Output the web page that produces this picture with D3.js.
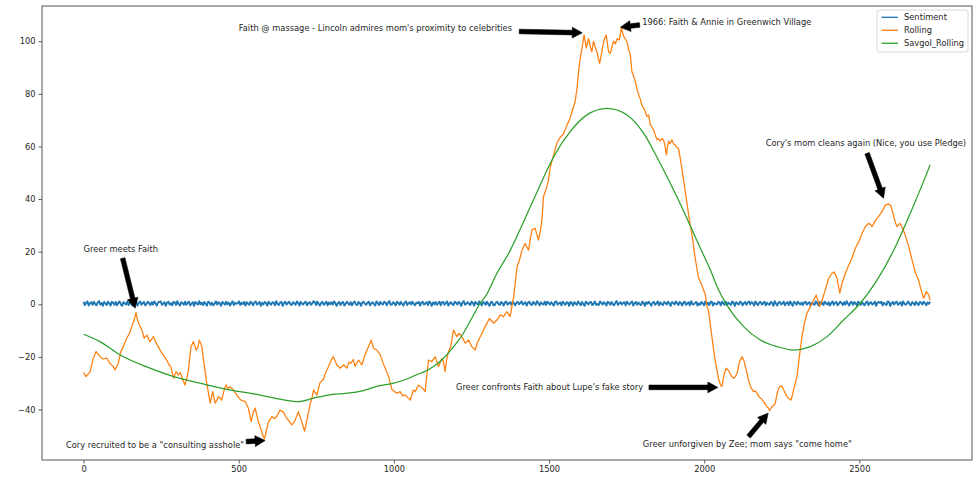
<!DOCTYPE html>
<html>
<head>
<meta charset="utf-8">
<script src="https://cdn.jsdelivr.net/npm/d3@7"></script>
<style>
  html, body { margin: 0; padding: 0; background: #fff; }
  svg { display: block; font-family: "DejaVu Sans", sans-serif; }
</style>
</head>
<body>
<svg id="chart" width="976" height="477"></svg>
<script>
// ---------------- DATA ----------------
const seriesNames = ["Sentiment", "Rolling", "Savgol_Rolling"];
const seriesColors = ["#1f77b4", "#ff7f0e", "#2ca02c"];

const xTicks = [0, 500, 1000, 1500, 2000, 2500];
const yTicks = [-40, -20, 0, 20, 40, 60, 80, 100];

const lastIndex = 2728;

// Sentiment (per-sentence, sampled evenly from index 0 to lastIndex)
const sentimentVals = [
 0.9,-0.3,0.6,1.1,-0.5,0.4,0.8,-0.2,1.0,0.1,-0.4,0.7,1.2,-0.1,0.5,-0.6,0.9,0.3,-0.3,1.0,
 0.3,-0.5,1.0,0.6,-0.2,0.9,-0.4,0.5,1.1,0.0,-0.6,0.8,0.4,-0.1,1.0,-0.3,0.7,0.2,-0.5,0.9,
 0.2,0.8,-0.5,0.6,1.1,-0.2,0.4,0.9,-0.4,0.0,1.0,0.5,-0.3,0.8,-0.1,1.1,0.3,-0.5,0.7,0.9,
 1.1,-0.2,0.3,0.8,-0.6,0.6,1.0,-0.1,0.4,-0.4,0.9,0.7,-0.3,1.2,0.1,-0.5,0.8,0.5,-0.2,1.0,
 -0.2,0.5,1.0,-0.4,0.2,0.8,-0.6,0.9,0.4,-0.1,1.2,0.0,0.6,-0.3,0.9,0.2,-0.5,1.0,0.7,-0.2,
 0.6,-0.4,0.2,1.1,-0.1,0.8,0.3,-0.6,0.9,0.5,-0.2,1.0,0.0,0.7,-0.5,0.4,1.1,-0.3,0.6,0.2,
 0.4,1.1,-0.3,0.6,0.1,0.9,-0.5,0.8,0.3,-0.2,1.0,0.5,-0.4,0.7,1.1,-0.1,0.3,0.9,-0.6,0.6,
 -0.1,0.9,0.5,-0.5,1.0,0.3,-0.2,0.8,0.6,-0.4,1.2,0.1,-0.3,0.7,0.9,-0.6,0.4,1.0,-0.1,0.5,
 1.0,0.0,-0.3,0.8,0.4,-0.2,1.1,0.6,-0.5,0.9,0.2,-0.1,0.7,1.0,-0.4,0.5,0.8,-0.2,0.3,1.2,
 0.8,-0.3,1.1,0.2,-0.5,0.6,0.9,-0.2,0.3,1.0,-0.4,0.7,0.0,0.8,-0.1,1.1,0.4,-0.6,0.5,0.9,
 -0.3,0.6,0.9,-0.5,0.1,1.0,0.4,-0.2,0.8,-0.4,0.6,1.1,0.0,-0.3,0.9,0.5,-0.6,0.7,1.0,0.2,
 -0.2,0.6,1.0,-0.4,0.3,0.8,0.1,-0.5,1.1,0.5,-0.3,0.9,0.2,-0.1,1.0,0.6,-0.4,0.7,1.2,-0.2,
 -0.1,0.8,0.3,-0.4,1.0,0.6,-0.2,0.9,0.1,-0.5,0.7,1.1,-0.3,0.4,0.8,-0.1,1.0,0.2,-0.4,0.6,
 0.4,0.9,-0.5,0.6,1.0,-0.1,0.3,0.8,-0.3,1.1,0.5,-0.6,0.7,0.0,0.9,-0.2,0.4,1.0,-0.4,0.8,
 0.9,-0.2,0.5,1.1,-0.5,0.3,0.8,0.0,-0.3,1.0,0.6,-0.1,0.9,0.4,-0.6,0.7,1.2,-0.2,0.2,0.8,
 0.2,-0.3,1.0,0.6,-0.5,0.9,0.3,-0.1,1.1,0.4,-0.4,0.8,0.6,-0.2,1.0,0.1,-0.6,0.7,0.9,-0.3,
 -0.4,0.6,1.0,0.1,-0.3,0.9,0.5,-0.5,0.7,1.1,-0.1,0.3,0.8,-0.2,1.0,0.4,-0.4,0.6,0.9,0.0,
 0.5,1.1,-0.1,0.3,0.8,-0.5,0.6,1.0,0.0,-0.3,0.9,0.4,-0.2,1.2,0.5,-0.4,0.7,0.2,-0.1,1.0,
 -0.3,1.0,0.5,-0.2,0.8,0.2,-0.5,0.9,1.1,-0.1,0.4,0.7,-0.4,1.0,0.3,-0.2,0.8,0.6,-0.6,0.9,
 0.6,-0.5,0.8,0.3,-0.2,1.1,0.4,-0.4,0.9,0.1,-0.6,1.0,0.5,-0.1,0.7,0.9,-0.3,0.2,1.1,-0.2,
 0.1,-0.3,1.1,0.5,-0.1,0.8,0.3,-0.5,1.0,0.6,-0.2,0.9,0.0,-0.4,0.7,1.2,-0.3,0.4,0.8,-0.1,
 0.5,0.8,-0.4,1.0,0.3,-0.1,0.6,1.1,-0.5,0.4,0.9,-0.2,0.7,0.0,-0.3,1.0,0.6,-0.6,0.8,0.2,
 1.0,0.2,-0.5,0.6,0.9,-0.2,0.4,1.1,-0.4,0.7,0.1,-0.3,0.9,0.5,-0.1,1.0,0.3,-0.6,0.8,0.6,
 -0.1,1.1,0.4,-0.3,0.9,0.5,-0.5,0.7,1.0,-0.2,0.3,0.8,-0.4,1.2,0.1,-0.1,0.6,0.9,-0.5,0.4,
 -0.2,0.9,0.4,-0.4,1.1,0.0,0.6,-0.3,0.8,1.0,-0.5,0.5,0.2,-0.1,0.9,0.7,-0.4,1.0,0.3,-0.2,
 1.0,-0.3,0.6,0.2,-0.2,1.1,0.5,-0.6,0.8,0.3,-0.1,1.0,0.7,-0.4,0.4,0.9,-0.2,0.6,1.1,0.0,
 0.8,0.5,-0.5,1.1,0.2,-0.3,0.7,0.9,-0.1,0.4,1.0,-0.4,0.6,0.1,-0.2,0.9,0.5,-0.6,1.2,0.3,
 -0.5,0.7,0.9,-0.1,0.3,1.0,-0.4,0.5,0.8,-0.3,1.1,0.2,-0.6,0.9,0.6,-0.2,1.0,0.4,-0.1,0.7,
 -0.3,0.7,1.0,-0.1,0.4,0.8,-0.5,0.6,0.2,-0.2,1.1,0.5,-0.4,0.9,0.0,0.7,-0.3,1.0,0.4,-0.1,
 0.8,-0.5,0.4,1.1,-0.2,0.6,0.9,-0.4,0.2,1.0,0.5,-0.3,0.8,-0.1,1.2,0.3,-0.5,0.7,0.9,-0.2,
 0.8,0.3,-0.5,1.0,0.6,-0.2,0.9,0.1,-0.4,0.7,1.1,-0.3,0.5,0.8,-0.1,0.2,1.0,-0.6,0.6,0.9,
 0.5,1.0,-0.4,0.6,0.1,-0.3,1.1,0.8,-0.6,0.4,0.9,-0.1,0.7,1.0,-0.2,0.3,0.8,-0.5,1.1,0.2,
 -0.2,0.4,1.1,0.0,-0.4,0.8,0.5,-0.3,1.0,0.2,
 -0.3,0.9,0.6,-0.1,1.0,0.4,-0.4,0.7,0.2,0.9
];

// Rolling
const rollingIdx = [
 0,8,21,30,40,53,62,75,85,96,101,112,120,128,139,148,155,163,169,175,180,188,195,204,214,225,233,241,249,257,
 268,275,281,290,298,305,312,320,327,333,338,346,354,363,368,373,381,388,397,408,416,424,435,445,452,459,466,472,483,494,
 507,521,531,540,547,553,562,570,577,583,589,596,607,615,623,633,644,655,663,671,682,692,703,712,718,723,730,736,741,752,
 762,773,780,787,798,805,816,827,838,848,855,862,869,875,886,897,907,916,927,934,945,956,963,972,983,994,1002,1010,1020,1028,
 1036,1045,1053,1058,1063,1069,1079,1085,1093,1101,1106,1112,1122,1133,1144,1155,1160,1165,1170,1176,1183,1192,1203,1210,1219,1230,1241,1251,1262,1268,
 1273,1284,1294,1308,1321,1332,1343,1353,1364,1375,1380,1386,1391,1397,1405,1413,1423,1428,1434,1439,1445,1455,1461,1466,1472,1477,1482,1493,1498,1504,
 1515,1525,1536,1545,1552,1558,1566,1574,1584,1590,1595,1600,1606,1613,1620,1627,1633,1638,1643,1648,1654,1663,1670,1676,1684,1692,1697,1703,1708,1714,
 1719,1727,1733,1740,1745,1751,1756,1762,1767,1772,1778,1783,1789,1794,1799,1805,1810,1815,1821,1826,1831,1837,1842,1848,1853,1858,1864,1869,1874,1878,
 1882,1885,1890,1896,1901,1907,1912,1917,1922,1928,1939,1950,1955,1961,1971,1982,1988,1993,1998,2004,2009,2014,2020,2030,2036,2039,2046,2052,2057,2065,
 2071,2077,2083,2089,2095,2100,2106,2114,2122,2129,2138,2143,2149,2159,2165,2170,2176,2181,2186,2191,2197,2202,2207,2211,2218,2224,2229,2235,2240,2246,
 2251,2256,2261,2266,2272,2280,2288,2299,2308,2315,2323,2331,2342,2353,2361,2366,2372,2380,2390,2401,2412,2419,2428,2437,2444,2455,2466,2476,2487,2498,
 2509,2519,2530,2536,2541,2552,2562,2573,2584,2594,2602,2611,2616,2622,2630,2637,2648,2659,2670,2681,2691,2699,2707,2716,2724,2728
];
const rollingVals = [
 -26.0,-27.5,-25.6,-21,-18.0,-19.9,-20.8,-20.5,-22.5,-23.7,-25.0,-22.4,-18,-16.1,-12.9,-11,-8.5,-6,-3.2,-6.5,-7.9,-9.8,-12.9,-11.7,-14.2,-12.3,-14.5,-16.1,-18,-19.3,
 -21.2,-23,-23.7,-28.1,-25.6,-26.9,-26,-28.8,-30.7,-28,-25.0,-16.1,-14.2,-17.4,-16.5,-13.6,-16.1,-22.4,-30.0,-37.6,-33.2,-37.6,-35.1,-36.4,-33,-30.7,-32,-31.3,-32.6,-34.5,
 -36.4,-37,-39.5,-44.6,-41,-39.5,-44,-47,-49.5,-51.2,-48,-44.6,-42.7,-43.5,-42.7,-40.2,-41,-43.4,-44.5,-45.9,-44,-40.8,-44.6,-48.2,-45,-42.1,-38,-35.7,-32.6,-34.5,
 -29.8,-28.5,-26,-24.3,-21.2,-19.9,-23,-24.3,-23,-24.3,-22,-22.4,-21,-23.6,-21.2,-23,-19.2,-16.7,-13.6,-16.7,-17.4,-19.2,-21.7,-24.3,-27.5,-32.5,-33.2,-33.8,-33.2,-34.8,
 -34.5,-35.5,-36.4,-34.5,-32.6,-33.2,-30.7,-31.3,-32,-33.2,-27,-21.2,-21.8,-19.9,-23.7,-20.5,-22,-25.6,-21,-18,-16.1,-9.8,-12.3,-11,-12.3,-14.8,-13.6,-16.1,-17.4,-15,
 -13.6,-11,-8.5,-5.4,-7.2,-6,-4,-4.7,-2.8,-4.7,-1,3,8,14.3,17,20.6,23.1,21.9,20.6,24.4,28.3,28.9,26.5,24.4,28,32,40.9,44.7,47,52.3,
 56.8,61.2,63.5,64.5,66.3,68.2,70.1,73.2,77,82,88.4,93,97.3,102.4,97.5,101,98,96,100,98,96,91.6,96,100,102.4,96,95.4,98,100,99,
 101,100.5,105.2,102,101,100,97,94.8,88.4,87,84.6,82,79.6,78,75.8,74.5,73.2,71.5,72,68.2,67.5,66.3,64.5,62.5,63,62,63,62.5,60,56.8,
 60,62,61,62.5,61,60.5,59.5,59.3,56,51.7,42.8,34,30,26.3,17.5,9.9,8.5,7.3,5.4,3.5,-0.9,-2.5,-8,-17,-21.8,-23.7,-28.2,-30.5,-31.3,-26.2,
 -24.3,-25,-26.2,-27.5,-28.1,-27.5,-26.2,-21.8,-19.9,-21.8,-26.2,-29,-31.3,-33.2,-33,-33.8,-35,-35.7,-36,-37,-38,-38.9,-39.5,-40.4,-38.9,-38.5,-37.6,-34,-31.9,-31,
 -31.3,-32.5,-33.8,-35,-35.7,-36.4,-32.6,-27.5,-18.6,-12.3,-7.2,-3.4,-0.9,1.6,3.5,1.5,-0.9,1.6,5.4,9.9,11.8,12.3,9.9,4.2,8,11.8,14.9,17.5,21.3,23.8,
 27,29.5,30.8,30.2,29.5,32,33.3,35.2,37.8,38.1,37.4,33.3,31,29.5,30.8,29.5,26.3,21.9,16.8,11.8,9.2,5.4,2.3,4.8,3.5,1.6
];

// Savgol_Rolling (smooth curve)
const savgolIdx = [0,53,118,214,290,376,483,521,569,633,692,741,789,850,902,950,999,1040,1079,1095,1130,1160,1190,1224,1250,1278,1294,1332,1375,1386,
 1450,1515,1568,1622,1687,1751,1805,1858,1912,1966,1987,2020,2046,2073,2127,2181,2235,2288,2342,2396,2449,2503,2557,2611,2664,2709,2728];
const savgolVals = [-11.4,-14.2,-19.3,-24.3,-27.5,-30,-32.8,-33.5,-34.5,-36.1,-37,-35.7,-34.5,-33.8,-32.8,-31,-30,-28.5,-26.5,-25.8,-23.5,-20.5,-16.5,-11,-5.5,0.4,2.8,11.8,20.5,23.2,
 39.7,56.1,65.6,72,74.5,72,65,53.6,40.9,27,21.5,13,5.5,-0.3,-8.5,-13.6,-16.1,-17.4,-16.1,-12.3,-6,0.4,9.2,20.6,34.6,47.3,53];

// Annotations
const annotTexts = [
 "Greer meets Faith",
 "Cory recruited to be a \"consulting asshole\"",
 "Faith @ massage - Lincoln admires mom's proximity to celebrities",
 "1966: Faith & Annie in Greenwich Village",
 "Cory's mom cleans again (Nice, you use Pledge)",
 "Greer confronts Faith about Lupe's fake story",
 "Greer unforgiven by Zee; mom says \"come home\""
];
const annotTextX = [0, -57, 500, 1800, 2198, 1200, 1802];
const annotTextY = [20, -54.6, 103.9, 106.3, 60, -32.7, -54.4];
const annotTailX = [126, 524, 1404, 1792, 2525, 1822, 2143];
const annotTailY = [17.5, -52.2, 103.7, 106.2, 57.4, -31.6, -50.3];
const annotTipX  = [166, 585, 1607, 1730, 2578, 2044, 2206];
const annotTipY  = [-1.5, -51.8, 103.2, 105.3, 40.3, -31.6, -41.4];

// ---------------- DRAW ----------------
const svg = d3.select("#chart");
const W = 976, H = 477;
const m = {left: 42, right: 4, top: 6, bottom: 17};
const x = d3.scaleLinear().domain([-134, 2863]).range([m.left, W - m.right]);
const y = d3.scaleLinear().domain([-59.2, 113.4]).range([H - m.bottom, m.top]);
const fontSize = 8.3;
const textColor = "#262626";

svg.append("rect").attr("width", W).attr("height", H).attr("fill", "#fff");

svg.append("clipPath").attr("id", "plotclip")
  .append("rect").attr("x", m.left).attr("y", m.top)
  .attr("width", W - m.left - m.right).attr("height", H - m.top - m.bottom);

const plot = svg.append("g").attr("clip-path", "url(#plotclip)");

const line = d3.line().x(d => x(d[0])).y(d => y(d[1]));

const nS = sentimentVals.length;
const sentimentData = sentimentVals.map((v, i) => [i * lastIndex / (nS - 1), v]);
const rollingData = rollingIdx.map((v, i) => [v, rollingVals[i]]);
const savgolData = savgolIdx.map((v, i) => [v, savgolVals[i]]);

plot.append("path").datum(sentimentData).attr("d", line)
  .attr("fill", "none").attr("stroke", seriesColors[0]).attr("stroke-width", 1.9)
  .attr("stroke-linejoin", "round");
plot.append("path").datum(rollingData).attr("d", line)
  .attr("fill", "none").attr("stroke", seriesColors[1]).attr("stroke-width", 1.25)
  .attr("stroke-linejoin", "round");
plot.append("path").datum(savgolData).attr("d", d3.line().x(d => x(d[0])).y(d => y(d[1])).curve(d3.curveMonotoneX))
  .attr("fill", "none").attr("stroke", seriesColors[2]).attr("stroke-width", 1.25);

// Axes
const xAxis = d3.axisBottom(x).tickValues(xTicks).tickSize(3.5).tickPadding(3).tickFormat(d3.format("d"));
const yAxis = d3.axisLeft(y).tickValues(yTicks).tickSize(3.5).tickPadding(3)
  .tickFormat(d => d < 0 ? "\u2212" + Math.abs(d) : String(d));

const gx = svg.append("g").attr("transform", `translate(0,${H - m.bottom})`).call(xAxis);
const gy = svg.append("g").attr("transform", `translate(${m.left},0)`).call(yAxis);
[gx, gy].forEach(g => {
  g.select(".domain").remove();
  g.selectAll(".tick line").attr("stroke", "#333").attr("stroke-width", 0.8);
  g.selectAll(".tick text").attr("fill", textColor).style("font-size", fontSize + "px")
    .style("font-family", "DejaVu Sans");
});

// Frame
svg.append("rect").attr("x", m.left).attr("y", m.top)
  .attr("width", W - m.left - m.right).attr("height", H - m.top - m.bottom)
  .attr("fill", "none").attr("stroke", "#444").attr("stroke-width", 0.9);

// Annotations
function arrowPath(x1, y1, x2, y2) {
  const dx = x2 - x1, dy = y2 - y1, L = Math.hypot(dx, dy);
  const ux = dx / L, uy = dy / L, px = -uy, py = ux;
  const bw = 2.3, hw = 5.4, hl = Math.min(10, L * 0.6);
  const bx = x2 - ux * hl, by = y2 - uy * hl;
  const pts = [
    [x1 + px * bw, y1 + py * bw],
    [bx + px * bw, by + py * bw],
    [bx + px * hw, by + py * hw],
    [x2, y2],
    [bx - px * hw, by - py * hw],
    [bx - px * bw, by - py * bw],
    [x1 - px * bw, y1 - py * bw]
  ];
  return "M" + pts.map(p => p[0].toFixed(2) + "," + p[1].toFixed(2)).join("L") + "Z";
}

const ann = svg.append("g");
annotTexts.forEach((t, i) => {
  ann.append("path")
    .attr("d", arrowPath(x(annotTailX[i]), y(annotTailY[i]), x(annotTipX[i]), y(annotTipY[i])))
    .attr("fill", "#000").attr("stroke", "#000").attr("stroke-width", 0.6);
  ann.append("text").attr("x", x(annotTextX[i])).attr("y", y(annotTextY[i]))
    .attr("fill", textColor).style("font-size", fontSize + "px").text(t);
});

// Legend
const lg = svg.append("g").attr("transform", "translate(877,10)");
lg.append("rect").attr("width", 91).attr("height", 42).attr("rx", 2.5)
  .attr("fill", "#fff").attr("fill-opacity", 0.8).attr("stroke", "#ccc").attr("stroke-width", 0.8);
seriesNames.forEach((n, i) => {
  const cy = 7.3 + i * 13;
  lg.append("line").attr("x1", 4.5).attr("x2", 21).attr("y1", cy).attr("y2", cy)
    .attr("stroke", seriesColors[i]).attr("stroke-width", 1.3);
  lg.append("text").attr("x", 27).attr("y", cy + 3).attr("fill", textColor)
    .style("font-size", fontSize + "px").text(n);
});
</script>
</body>
</html>
